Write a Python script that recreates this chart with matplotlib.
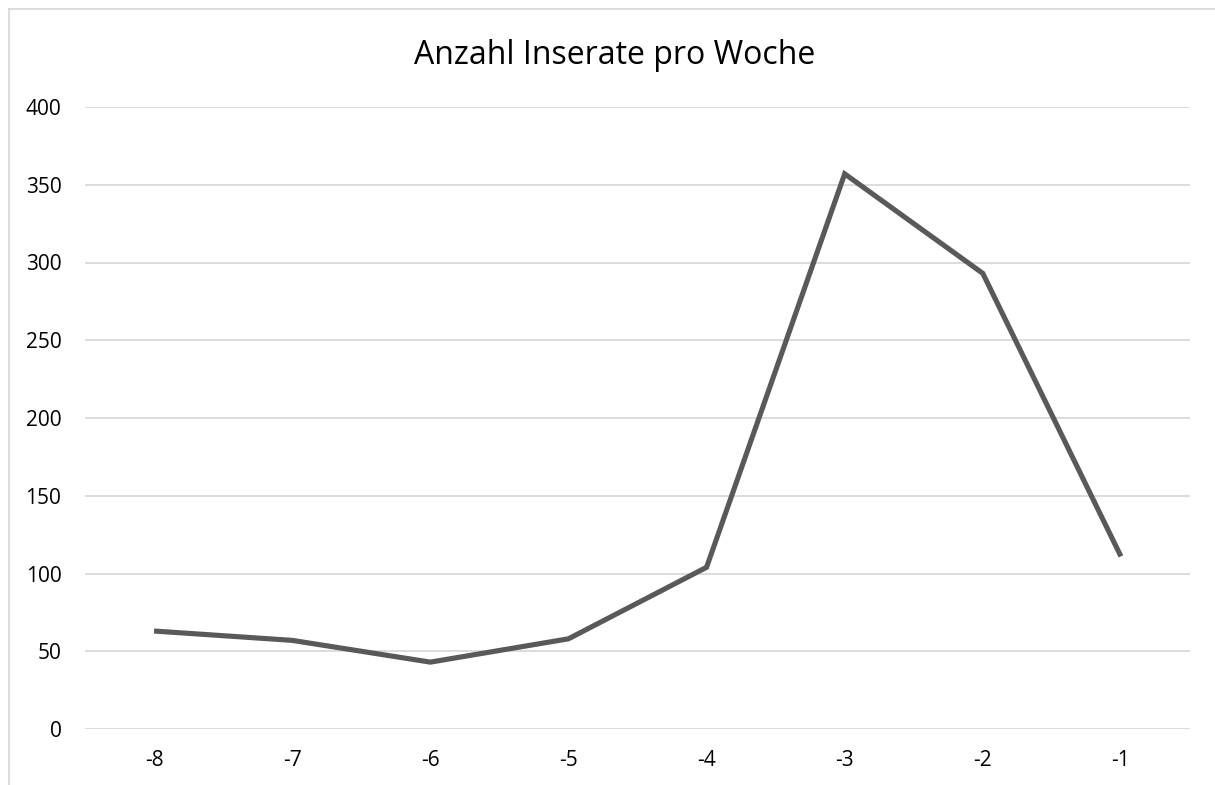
import matplotlib.pyplot as plt
from matplotlib.lines import Line2D

# Anzahl Inserate je Woche (relative Woche)
weeks = ['-8', '-7', '-6', '-5', '-4', '-3', '-2', '-1']
ads = [63, 57, 43, 58, 104, 357, 293, 111]

plt.rcParams['font.family'] = ['Open Sans', 'DejaVu Sans']

W, H = 1215, 785
fig = plt.figure(figsize=[W / 100, H / 100], dpi=100)
ax = fig.add_axes([85 / W, 1 - 729 / H, (1190 - 85) / W, (729 - 107) / H])

# chart frame (only top/left visible in the original)
fx, fy = 8.5 / W, 1 - 8.5 / H
fig.lines.append(Line2D([fx, fx], [0, fy], transform=fig.transFigure, color='#d9d9d9', linewidth=1.3))
fig.lines.append(Line2D([fx, 1], [fy, fy], transform=fig.transFigure, color='#d9d9d9', linewidth=1.3))

x = range(len(weeks))
ax.plot(x, ads, color='#595959', linewidth=3.7, solid_joinstyle='miter', solid_capstyle='butt', zorder=3)

ax.set_xlim(-0.5, len(weeks) - 0.5)
ax.set_ylim(0, 400)
ax.set_yticks(range(0, 401, 50))
ax.set_xticks(list(x))
ax.set_xticklabels(weeks)
ax.grid(axis='y', color='#d9d9d9', linewidth=1.3)
ax.set_axisbelow(True)
for s in ax.spines.values():
    s.set_visible(False)
ax.tick_params(length=0, labelsize=15, colors='#000000')
ax.tick_params(axis='y', pad=17)
ax.tick_params(axis='x', pad=15)

fig.text(615 / W, 1 - 55 / H, 'Anzahl Inserate pro Woche', ha='center', va='center', fontsize=23)

plt.savefig('out.png', dpi=100)
